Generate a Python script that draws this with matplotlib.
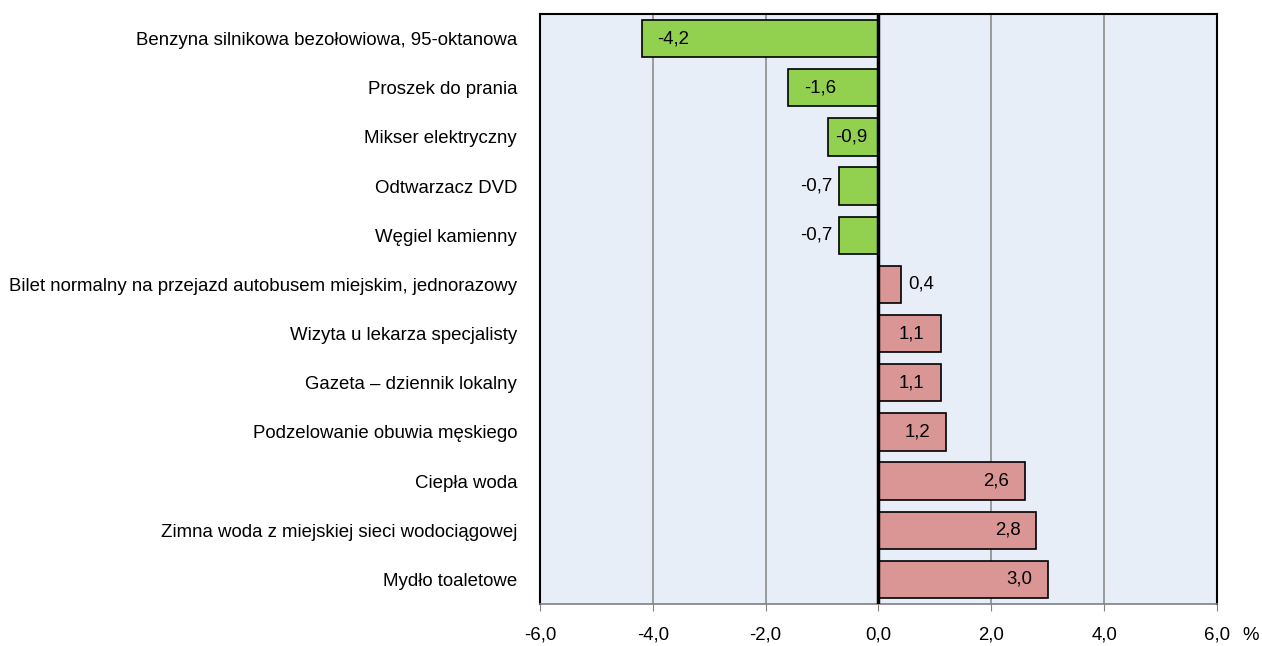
import matplotlib
matplotlib.use("Agg")
import matplotlib.pyplot as plt

categories = [
    "Benzyna silnikowa bezołowiowa, 95-oktanowa",
    "Proszek do prania",
    "Mikser elektryczny",
    "Odtwarzacz DVD",
    "Węgiel kamienny",
    "Bilet normalny na przejazd autobusem miejskim, jednorazowy",
    "Wizyta u lekarza specjalisty",
    "Gazeta – dziennik lokalny",
    "Podzelowanie obuwia męskiego",
    "Ciepła woda",
    "Zimna woda z miejskiej sieci wodociągowej",
    "Mydło toaletowe",
]
values = [-4.2, -1.6, -0.9, -0.7, -0.7, 0.4, 1.1, 1.1, 1.2, 2.6, 2.8, 3.0]
xticks = [-6, -4, -2, 0, 2, 4, 6]

FS = 13.4
plt.rcParams['font.family'] = ['Liberation Sans', 'DejaVu Sans']
fig = plt.figure(figsize=(12.62, 6.46), dpi=100)
ax = fig.add_axes([540/1262, 1-604/646, (1217-540)/1262, (604-14)/646])
ax.set_facecolor('#E8EEF7')

ypos = list(range(len(categories)))
colors = ['#92D050' if v < 0 else '#DA9694' for v in values]
ax.barh(ypos, values, height=0.76, color=colors, edgecolor='black', linewidth=1.2, zorder=3)
ax.set_ylim(len(categories)-0.5, -0.5)
ax.set_xlim(-6, 6)
ax.set_xticks(xticks)
ax.set_xticklabels([f"{t:.1f}".replace('.', ',') for t in xticks], fontsize=FS)
ax.set_yticks(ypos)
ax.set_yticklabels(categories, fontsize=FS)
ax.tick_params(axis='y', length=0, pad=16.5)
ax.tick_params(axis='x', length=5, color='#808080', pad=11)
for t in xticks:
    if t != 0:
        ax.axvline(t, color='#8C8C8C', linewidth=1.2, zorder=1)
ax.axvline(0, color='black', linewidth=2.5, zorder=4)
for s in ['top', 'left', 'right']:
    ax.spines[s].set_color('black')
    ax.spines[s].set_linewidth(1.5)
ax.spines['bottom'].set_color('#808080')
ax.spines['bottom'].set_linewidth(1.2)

for y, v in zip(ypos, values):
    lab = f"{v:.1f}".replace('.', ',')
    if abs(v) >= 1.0:
        if v < 0:
            ax.annotate(lab, (v, y), xytext=(11.5, 0), textcoords='offset points', ha='left', va='center', fontsize=FS, zorder=5)
        else:
            ax.annotate(lab, (v, y), xytext=(-11.5, 0), textcoords='offset points', ha='right', va='center', fontsize=FS, zorder=5)
    elif abs(v) >= 0.9:
        ax.annotate(lab, (v / 2, y), xytext=(-1, 0), textcoords='offset points', ha='center', va='center', fontsize=FS, zorder=5)
    else:
        if v < 0:
            ax.annotate(lab, (v, y), xytext=(-4.5, 0), textcoords='offset points', ha='right', va='center', fontsize=FS, zorder=5)
        else:
            ax.annotate(lab, (v, y), xytext=(5.5, 0), textcoords='offset points', ha='left', va='center', fontsize=FS, zorder=5)

fig.text(1251/1262, 1-636/646, "%", fontsize=FS, ha='center', va='center')
fig.savefig("out.png", dpi=100)
